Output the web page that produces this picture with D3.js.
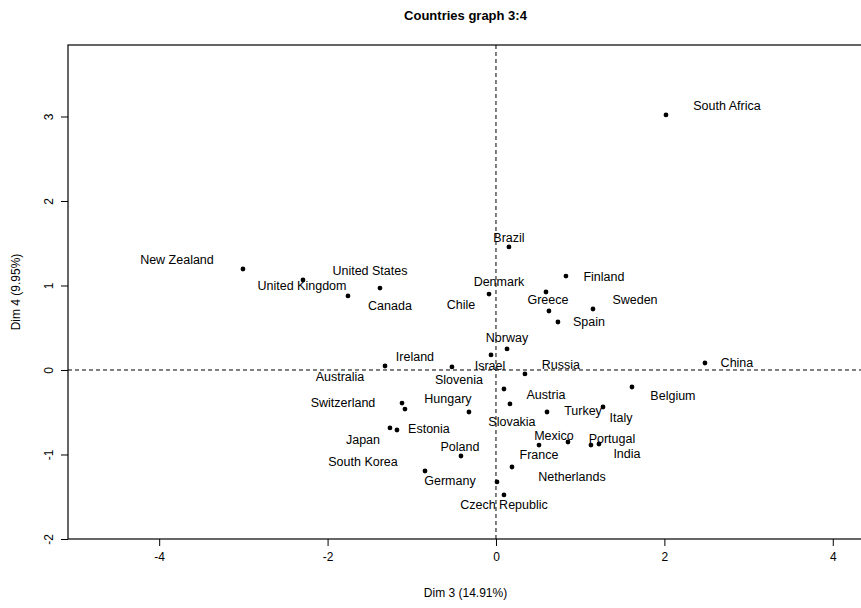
<!DOCTYPE html>
<html>
<head>
<meta charset="utf-8">
<script src="https://cdn.jsdelivr.net/npm/d3@7"></script>
<style>
  html, body { margin: 0; padding: 0; background: #fff; }
  svg { display: block; font-family: "Liberation Sans", Arial, Helvetica, sans-serif; }
</style>
</head>
<body>
<svg id="chart" width="861" height="608"></svg>
<script>
// Individuals factor map, dimensions 3 and 4
const countries = [
  "South Africa", "New Zealand", "United Kingdom", "United States", "Canada",
  "Brazil", "Finland", "Chile", "Denmark", "Greece", "Spain", "Sweden",
  "Norway", "Israel", "Australia", "Ireland", "Russia", "China", "Belgium",
  "Austria", "Slovakia", "Turkey", "Italy", "Switzerland", "Hungary",
  "Slovenia", "Japan", "Estonia", "Poland", "South Korea", "France",
  "Mexico", "Portugal", "India", "Netherlands", "Germany", "Czech Republic"
];
const dim3 = [
  2.019, -3.005, -2.292, -1.378, -1.758,
  0.154, 0.831, -0.083, 0.594, 0.629, 0.736, 1.152,
  0.131, -0.059, -1.318, -0.523, 0.344, 2.482, 1.615,
  0.095, 0.166, 0.606, 1.271, -1.116, -1.081,
  -0.321, -1.259, -1.176, -0.416, -0.843, 0.511,
  0.855, 1.128, 1.223, 0.190, 0.012, 0.095
];
const dim4 = [
  3.018, 1.195, 1.065, 0.970, 0.876,
  1.456, 1.112, 0.899, 0.923, 0.698, 0.568, 0.722,
  0.249, 0.178, 0.047, 0.036, -0.047, 0.083, -0.201,
  -0.225, -0.402, -0.497, -0.438, -0.391, -0.462,
  -0.497, -0.686, -0.710, -1.018, -1.195, -0.888,
  -0.852, -0.888, -0.876, -1.148, -1.325, -1.479
];
const xTicks = [-4, -2, 0, 2, 4];
const yTicks = [-2, -1, 0, 1, 2, 3];
const xTitle = "Dim 3 (14.91%)";
const yTitle = "Dim 4 (9.95%)";
const chartTitle = "Countries graph 3:4";

// Label placement (pixel offsets from each point, set to keep labels apart)
const labelOffset = {
  "South Africa": [61, -9], "New Zealand": [-66, -9], "United Kingdom": [-1, 6],
  "United States": [-10, -17], "Canada": [42, 10], "Brazil": [0, -9],
  "Finland": [38, 1], "Chile": [-28, 11], "Denmark": [-47, -10],
  "Greece": [-1, -11], "Spain": [31, 0], "Sweden": [42, -9],
  "Norway": [0, -11], "Israel": [-1, 11], "Australia": [-45, 11],
  "Ireland": [-37, -10], "Russia": [36, -9], "China": [32, 0],
  "Belgium": [41, 9], "Austria": [42, 6], "Slovakia": [2, 18],
  "Turkey": [36, -1], "Italy": [18, 11], "Switzerland": [-59, 0],
  "Hungary": [43, -10], "Slovenia": [-10, -32], "Japan": [-27, 12],
  "Estonia": [32, -1], "Poland": [-1, -9], "South Korea": [-62, -9],
  "France": [0, 10], "Mexico": [-14, -6], "Portugal": [21, -6],
  "India": [28, 10], "Netherlands": [60, 10], "Germany": [-47, -1],
  "Czech Republic": [0, 10]
};

const points = countries.map((name, i) => ({ name, x: dim3[i], y: dim4[i] }));

const svg = d3.select("#chart");
const box = { left: 68, right: 863, top: 45, bottom: 539 };

const x = d3.scaleLinear().domain([-5.083, 4.359]).range([box.left, box.right]);
const y = d3.scaleLinear().domain([-2, 3.846]).range([box.bottom, box.top]);

// plain hyphen for negative tick values
const tickText = d => String(d);

// reference lines through the origin
svg.append("line")
  .attr("x1", x(0)).attr("x2", x(0))
  .attr("y1", box.top).attr("y2", box.bottom)
  .attr("stroke", "#000").attr("stroke-width", 1).attr("stroke-dasharray", "4,3");
svg.append("line")
  .attr("x1", box.left).attr("x2", box.right)
  .attr("y1", y(0)).attr("y2", y(0))
  .attr("stroke", "#000").attr("stroke-width", 1).attr("stroke-dasharray", "4,3");

// axes
const xAxis = svg.append("g")
  .attr("transform", `translate(0,${box.bottom})`)
  .call(d3.axisBottom(x).tickValues(xTicks).tickSize(7).tickFormat(tickText));
const yAxis = svg.append("g")
  .attr("transform", `translate(${box.left},0)`)
  .call(d3.axisLeft(y).tickValues(yTicks).tickSize(7).tickFormat(tickText));

[xAxis, yAxis].forEach(g => {
  g.select(".domain").remove();
  g.selectAll(".tick line").attr("stroke", "#000");
  g.selectAll(".tick text")
    .attr("font-family", "'Liberation Sans', Arial, sans-serif")
    .attr("font-size", 12).attr("fill", "#000");
});
xAxis.selectAll(".tick text").attr("dy", null).attr("y", 18).attr("dominant-baseline", "central");
// R-style vertical tick labels on the left axis
yAxis.selectAll(".tick text")
  .attr("x", null).attr("dy", null)
  .attr("text-anchor", "middle")
  .attr("dominant-baseline", "central")
  .attr("transform", "translate(-19,0) rotate(-90)");

// plot frame
svg.append("rect")
  .attr("x", box.left).attr("y", box.top)
  .attr("width", box.right - box.left).attr("height", box.bottom - box.top)
  .attr("fill", "none").attr("stroke", "#000").attr("stroke-width", 1.2);

// points
svg.append("g").selectAll("circle")
  .data(points).join("circle")
  .attr("cx", d => x(d.x)).attr("cy", d => y(d.y))
  .attr("r", 2.4).attr("fill", "#000");

// labels
svg.append("g").selectAll("text")
  .data(points).join("text")
  .attr("x", d => x(d.x) + labelOffset[d.name][0])
  .attr("y", d => y(d.y) + labelOffset[d.name][1])
  .attr("text-anchor", "middle")
  .attr("dominant-baseline", "central")
  .attr("font-size", 12.5).attr("fill", "#000")
  .text(d => d.name);

// titles
svg.append("text")
  .attr("x", (box.left + box.right) / 2).attr("y", 15)
  .attr("text-anchor", "middle").attr("dominant-baseline", "central")
  .attr("font-weight", "bold").attr("font-size", 13)
  .text(chartTitle);
svg.append("text")
  .attr("x", (box.left + box.right) / 2).attr("y", 593)
  .attr("text-anchor", "middle").attr("dominant-baseline", "central")
  .attr("font-size", 12)
  .text(xTitle);
svg.append("text")
  .attr("transform", `translate(16,${(box.top + box.bottom) / 2}) rotate(-90)`)
  .attr("text-anchor", "middle").attr("dominant-baseline", "central")
  .attr("font-size", 12)
  .text(yTitle);
</script>
</body>
</html>
